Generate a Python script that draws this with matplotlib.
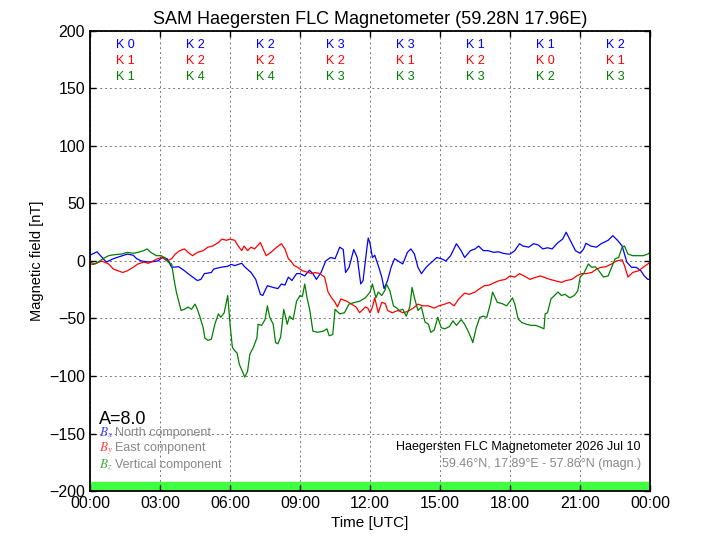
import matplotlib
matplotlib.use("Agg")
import matplotlib.pyplot as plt
import numpy as np

plt.rcParams['font.family'] = ['Liberation Sans', 'DejaVu Sans']
plt.rcParams['mathtext.fontset'] = 'stix'

# ---- data (hours UTC, nT) ----
bx_t = [0.0, 0.3, 0.7, 1.0, 1.6, 1.85, 2.0, 2.2, 2.55, 2.9, 3.1, 3.3, 3.5, 3.8, 4.05, 4.2, 4.4, 4.6, 4.75, 4.9,
        5.2, 5.3, 5.6, 5.9, 6.05,
        6.2, 6.5, 6.65, 6.9, 7.1, 7.3, 7.4, 7.6, 7.85, 8.05, 8.2, 8.35, 8.5, 8.65, 8.85, 9.0, 9.2, 9.4, 9.55, 9.7,
        9.9, 10.1, 10.3, 10.5, 10.7, 10.85, 10.95, 11.1, 11.3, 11.45, 11.6, 11.7, 11.85, 11.92, 12.0,
        12.1, 12.2, 12.35, 12.5, 12.6, 12.75, 12.9, 13.05, 13.2, 13.4, 13.6, 13.75, 13.9, 14.05, 14.2, 14.4,
        14.55, 14.7, 14.85, 15.05, 15.25, 15.45, 15.7, 15.9, 16.05, 16.3, 16.5, 16.65, 16.85, 17.05, 17.3,
        17.5, 17.7, 17.9, 18.0,
        18.2, 18.4, 18.55, 18.8, 19.0, 19.2, 19.4, 19.6, 19.8, 20.05, 20.25, 20.4, 20.55, 20.8, 21.0,
        21.15, 21.25, 21.45, 21.7, 21.9, 22.2, 22.4, 22.6, 22.8, 23.0, 23.2, 23.4, 23.6, 23.75, 23.9, 24.0]
bx_v = [5, 8, -1, 2, 6, 5, 2, 0, -1, 0, 3, 2, -5.5, -5, -8.5, -11, -14, -17, -16, -11,
        -10, -7, -5.5, -4.6, -3,
        -4, -2, -5.5, -10, -16, -29, -30, -21.5, -23, -24, -20, -21, -14, -17, -11, -11, -13, -8, -11, -16,
        -10, 0, 3, 2, 12, 10, -10, -5.5, 10, 3, -20, -17, 9, 20, 15,
        3, 5, -4, -14, -24, -17, -5.5, 2, 0, -2.6, 7.5, 10.5, 6, -5.5, -11, -5.5,
        -2.6, 0, 3, 2, 0, 4.6, 15, 9, 3, 9, 10.5, 13, 9, 9, 7.5,
        8, 6.7, 6, 6,
        9, 15, 13, 12, 15, 14, 10.5, 11.5, 10.5, 16, 19, 25, 19, 9, 6.7,
        10.5, 15.4, 13, 12, 15, 18, 22, 18, 13, -1, -5.5, -5.5, -8.5, -13, -16, -16]

by_t = [0.0, 0.2, 0.5, 0.8, 1.0, 1.2, 1.4, 1.6, 1.85, 2.05, 2.3, 2.5, 2.7, 2.9, 3.1, 3.3, 3.5, 3.65, 3.85, 4.05,
        4.2, 4.4, 4.6, 4.85, 5.05, 5.25, 5.5, 5.65, 5.85, 6.0,
        6.2, 6.35, 6.5, 6.6, 6.75, 6.9, 7.05, 7.3, 7.45, 7.55, 7.75, 8.0, 8.2, 8.35, 8.5, 8.6, 8.75, 8.9,
        9.1, 9.35, 9.5, 9.65, 9.85, 10.05, 10.2, 10.35, 10.5, 10.6, 10.75, 11.0, 11.2, 11.4, 11.55, 11.8, 11.9, 12.0,
        12.1, 12.2, 12.35, 12.5, 12.65, 12.75, 12.95, 13.2, 13.4, 13.6, 13.85, 14.05, 14.25, 14.5, 14.75,
        14.95, 15.2, 15.4, 15.6, 15.8, 16.05, 16.25, 16.5, 16.7, 16.9, 17.1, 17.35, 17.55, 17.8, 18.0,
        18.2, 18.4, 18.6, 18.85, 19.05, 19.3, 19.5, 19.7, 19.9, 20.2, 20.4, 20.65, 20.85, 21.05, 21.25,
        21.5, 21.7, 21.9, 22.1, 22.35, 22.55, 22.8, 22.9, 23.05, 23.25, 23.5, 23.7, 23.9, 24.0]
by_v = [-1, -2.6, 0, -2.6, -7, -8.5, -10, -8.5, -5.5, -2.6, -1, -2, 0, 2, 3, 0, 2, 6, 9, 10.5,
        7.5, 4.6, 7.5, 9, 12, 13, 16, 19, 18, 19,
        18, 13, 9, 13, 9, 12, 10.5, 16, 9, 4.6, 7.5, 12, 15, 10.5, 2, 0, -4, -5.5,
        -8.5, -10, -11, -10, -11, -14, -27, -32, -36, -40, -33, -35, -37.5, -40, -45, -40, -41, -45,
        -40, -32, -45, -36, -37, -43, -45, -43, -45, -44, -41, -37.5, -39, -39, -41,
        -39, -37.5, -36, -39, -33, -28, -29, -27, -24, -21.5, -21, -18.6, -17, -16, -13,
        -14, -11, -13, -16, -14.5, -13, -14.5, -16, -17, -18.6, -17, -16, -13, -11, -11,
        -10, -7, -5.5, -5, -2.6, 0, 1, -4, -14, -10, -8.5, -5.5, -2.6, -1]

bz_t = [0.0, 0.15, 0.35, 0.55, 0.8, 1.05, 1.35, 1.6, 1.85, 2.05, 2.3, 2.45, 2.6, 2.85, 3.05, 3.2, 3.35, 3.5,
        3.6, 3.7, 3.8, 3.9, 4.05, 4.2, 4.35, 4.5, 4.6, 4.7, 4.85, 4.92, 5.05, 5.2, 5.35, 5.5, 5.6, 5.75, 5.9,
        6.0, 6.1, 6.2, 6.3, 6.4, 6.55, 6.63, 6.75, 6.85, 7.0, 7.15, 7.2, 7.35, 7.5, 7.6, 7.7, 7.85, 7.95,
        8.05, 8.17, 8.3, 8.45, 8.55, 8.7, 8.85, 9.0, 9.1, 9.2, 9.3, 9.42, 9.55, 9.75, 10.0, 10.15, 10.25,
        10.4, 10.5, 10.7, 10.9, 11.1, 11.35, 11.55, 11.8, 12.0,
        12.1, 12.25, 12.35, 12.5, 12.65, 12.7, 12.85, 13.0, 13.15, 13.25, 13.4, 13.55, 13.7, 13.8, 13.9,
        14.05, 14.2, 14.35, 14.5, 14.6, 14.75, 14.9, 15.05, 15.2, 15.4, 15.55, 15.7, 15.9, 16.05, 16.2,
        16.35, 16.4, 16.55, 16.7, 16.85, 17.0, 17.15, 17.25, 17.45, 17.65, 17.85, 18.0,
        18.1, 18.2, 18.35, 18.5, 18.7, 18.9, 19.1, 19.35, 19.45, 19.5, 19.6, 19.75, 19.9, 20.05, 20.2,
        20.35, 20.55, 20.75, 20.9, 21.0, 21.15, 21.35, 21.5, 21.65, 21.8, 22.0, 22.2, 22.35, 22.5, 22.65,
        22.8, 22.9, 23.05, 23.25, 23.5, 23.7, 23.9, 24.0]
bz_v = [-2.6, -3, -1, 2, 4.6, 5.5, 6, 7.5, 6.7, 7.5, 9, 10.5, 7.5, 4.6, 4.6, 3, -1, -2.6,
        -16, -27, -35, -43, -42, -40, -42, -37.5, -42, -48, -58, -67, -69, -68, -55, -46, -49, -45, -30,
        -55, -75, -78, -80, -90, -97, -101, -96, -81, -75, -67, -55, -56, -51, -39, -49, -55, -71,
        -72, -66, -42, -55, -48, -51, -35, -30, -31, -20, -32, -43, -61, -62, -61, -59, -65,
        -64, -42, -46, -45, -37.5, -36, -35, -32, -27,
        -20, -32, -27, -30, -25, -20, -26, -39, -41, -43, -42, -48, -40, -23, -32,
        -43, -40, -53, -55, -62, -60, -49, -58, -59, -57, -52, -56, -51, -55, -61,
        -68, -71, -58, -49, -48, -49, -37.5, -27, -36, -37, -39, -35,
        -32, -37.5, -50.6, -53.5, -55, -56, -56, -58, -59, -46, -45, -33, -30, -27, -30,
        -29, -32, -30, -26, -14, -11, -2.6, -5.5, -5, -8.5, -14, -13, -5.5, 2, 3,
        12, 13, 6, 4.6, 4.6, 4.6, 6, 7.5]

k_x = ["K 0", "K 2", "K 2", "K 3", "K 3", "K 1", "K 1", "K 2"]
k_y = ["K 1", "K 2", "K 2", "K 2", "K 1", "K 2", "K 0", "K 1"]
k_z = ["K 1", "K 4", "K 4", "K 3", "K 3", "K 3", "K 2", "K 3"]

x_ticks = [0, 3, 6, 9, 12, 15, 18, 21, 24]
x_labels = ["00:00", "03:00", "06:00", "09:00", "12:00", "15:00", "18:00", "21:00", "00:00"]
y_ticks = [-200, -150, -100, -50, 0, 50, 100, 150, 200]

fig = plt.figure(figsize=(7.2, 5.4), dpi=100)
ax = fig.add_axes([0.125, 0.0907, 0.778, 0.852])

ax.plot(bx_t, bx_v, color='#0000ff', lw=0.9)
ax.plot(by_t, by_v, color='#ff0000', lw=0.9)
ax.plot(bz_t, bz_v, color='#008000', lw=0.9)

ax.axhspan(-200, -192.5, color='#40ff40', zorder=1)

ax.set_xlim(0, 24)
ax.set_ylim(-200, 200)
ax.set_xticks(x_ticks)
ax.set_xticklabels(x_labels, fontsize=11.5)
ax.set_yticks(y_ticks)
ax.set_yticklabels([str(v).replace('-', '\u2212') for v in y_ticks], fontsize=11.5)
ax.tick_params(direction='in', top=True, right=True, length=4, width=1)
ax.grid(True, color='#777777', linestyle=(0, (2, 3)), linewidth=0.7)
for s in ax.spines.values():
    s.set_linewidth(1.3)

ax.set_title("SAM Haegersten FLC Magnetometer (59.28N 17.96E)", fontsize=13, pad=5)
ax.set_xlabel("Time [UTC]", fontsize=11)
ax.set_ylabel("Magnetic field [nT]", fontsize=10.5)

for i in range(8):
    cx = 1.5 + 3 * i
    ax.text(cx, 188, k_x[i], color='#0000ff', fontsize=9, ha='center', va='center')
    ax.text(cx, 173.5, k_y[i], color='#ff0000', fontsize=9, ha='center', va='center')
    ax.text(cx, 160, k_z[i], color='#008000', fontsize=9, ha='center', va='center')

ax.text(0.38, -138, "A=8.0", fontsize=13, ha='left', va='center')
ax.text(0.38, -149.5, "$B_x$", color='#4444ff', fontsize=9.5, ha='left', va='center')
ax.text(0.38, -163, "$B_y$", color='#ff4444', fontsize=9.5, ha='left', va='center')
ax.text(0.38, -177, "$B_z$", color='#44aa44', fontsize=9.5, ha='left', va='center')
ax.text(1.08, -149.5, "North component", color='#888888', fontsize=9, ha='left', va='center')
ax.text(1.08, -163, "East component", color='#888888', fontsize=9, ha='left', va='center')
ax.text(1.08, -177, "Vertical component", color='#888888', fontsize=9, ha='left', va='center')

ax.text(23.6, -162, "Haegersten FLC Magnetometer 2026 Jul 10", color='black', fontsize=9, ha='right', va='center')
ax.text(23.6, -176.5, "59.46°N, 17.89°E - 57.86°N (magn.)", color='#888888', fontsize=9, ha='right', va='center')

fig.savefig("out.png", dpi=100)
